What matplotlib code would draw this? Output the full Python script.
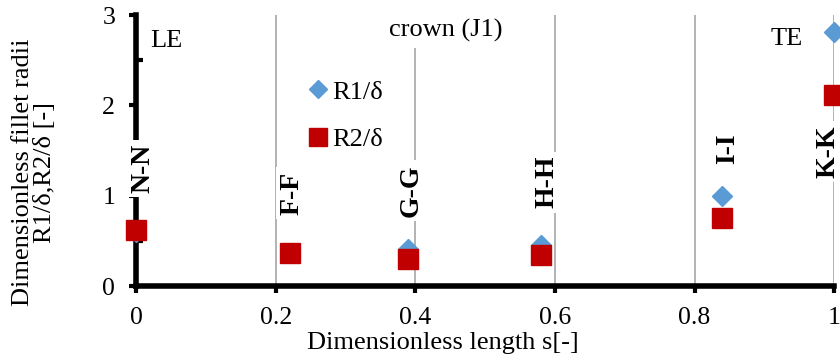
import matplotlib.pyplot as plt

# data
s = [0.0, 0.22, 0.39, 0.58, 0.84, 1.0]
r1 = [0.60, 0.37, 0.41, 0.45, 1.00, 2.81]
r2 = [0.62, 0.365, 0.30, 0.34, 0.75, 2.11]
sec_x = [0.2, 0.4, 0.6, 0.8, 1.0]
sec_labels = ["N-N", "F-F", "G-G", "H-H", "I-I", "K-K"]
sec_lab_x = [0.01, 0.224, 0.394, 0.589, 0.847, 0.991]
sec_lab_y = [1.30, 1.03, 1.06, 1.15, 1.52, 1.49]
xticks = [0, 0.2, 0.4, 0.6, 0.8, 1.0]
xticklabels = ["0", "0.2", "0.4", "0.6", "0.8", "1"]

plt.rcParams["font.family"] = ["Liberation Serif", "DejaVu Serif"]

fig = plt.figure(figsize=(8.4, 3.59), dpi=100)
ax = fig.add_axes([0.162, 0.203, 0.831, 0.755])

for xv in sec_x:
    ax.axvline(xv, color="#a6a6a6", lw=1.2, zorder=1)

ax.plot(s, r1, ls="none", marker="D", ms=10, color="#5b9bd5", label="R1/δ",
        zorder=4, clip_on=False)
ax.plot(s, r2, ls="none", marker="s", ms=14, color="#c00000", label="R2/δ",
        zorder=5, clip_on=False)

for lx, ly, t in zip(sec_lab_x, sec_lab_y, sec_labels):
    ax.text(lx, ly, t, rotation=90, ha="center", va="center", fontsize=20,
            fontweight="bold", zorder=6,
            bbox=dict(facecolor="white", edgecolor="none", pad=3))

ax.text(0.02, 2.71, "LE", fontsize=19, ha="left", va="center", zorder=6)
ax.text(0.444, 2.83, "crown (J1)", fontsize=19, ha="center", va="center", zorder=6,
        bbox=dict(facecolor="white", edgecolor="none", pad=4))
ax.text(0.932, 2.74, "TE", fontsize=19, ha="center", va="center", zorder=6)

ax.set_xlim(0, 1)
ax.set_ylim(0, 3)
ax.set_xticks(xticks)
ax.set_xticklabels(xticklabels)
ax.set_yticks([0, 1, 2, 3])
ax.set_yticks([0.5, 1.5, 2.5], minor=True)
ax.tick_params(axis="both", labelsize=18.5, width=3, length=5, direction="out", pad=10)
ax.tick_params(axis="y", which="minor", direction="in", width=3, length=5)

for side in ["top", "right"]:
    ax.spines[side].set_visible(False)
for side in ["left", "bottom"]:
    ax.spines[side].set_linewidth(4)
    ax.spines[side].set_color("black")
    ax.spines[side].set_clip_on(False)
    ax.spines[side].set_zorder(3)

ax.legend(loc="upper left", bbox_to_anchor=(0.241, 0.76), frameon=False,
          fontsize=19, handletextpad=0.05, labelspacing=0.9, handlelength=1.0,
          borderpad=0, borderaxespad=0, markerscale=0.95)

fig.text(0.527, 0.045, "Dimensionless length s[-]", ha="center", va="center", fontsize=19)
fig.text(0.041, 0.52, "Dimensionless fillet radii\nR1/δ,R2/δ [-]", rotation=90,
         ha="center", va="center", fontsize=19, multialignment="center", linespacing=1.0)

fig.savefig("out.png", dpi=100)
